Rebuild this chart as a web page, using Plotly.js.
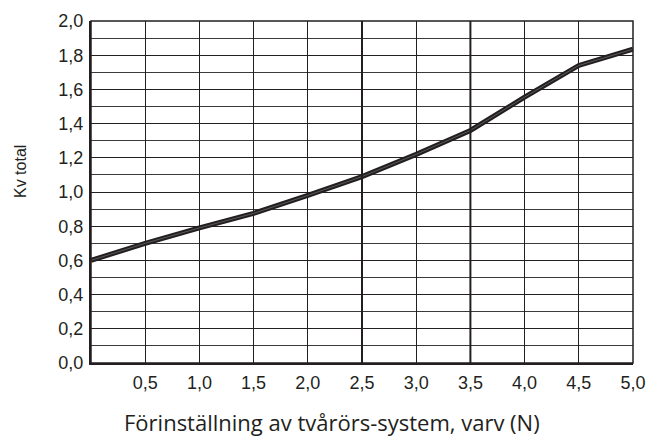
<!DOCTYPE html>
<html>
<head>
<meta charset="utf-8">
<script src="https://cdn.plot.ly/plotly-3.0.1.min.js"></script>
<style>html,body{margin:0;padding:0;background:#fff;}#chart{width:649px;height:437px;}</style>
</head>
<body>
<div id="chart"></div>
<script>
const presetting = [0, 0.5, 1.0, 1.5, 2.0, 2.5, 3.0, 3.5, 4.0, 4.5, 5.0];
const kvTotal   = [0.60, 0.70, 0.79, 0.875, 0.98, 1.09, 1.22, 1.36, 1.555, 1.74, 1.835];
const xTickVals = [0.5, 1.0, 1.5, 2.0, 2.5, 3.0, 3.5, 4.0, 4.5, 5.0];
const xTickText = ["0,5","1,0","1,5","2,0","2,5","3,0","3,5","4,0","4,5","5,0"];
const yTickVals = [0, 0.2, 0.4, 0.6, 0.8, 1.0, 1.2, 1.4, 1.6, 1.8, 2.0];
const yTickText = ["0,0","0,2","0,4","0,6","0,8","1,0","1,2","1,4","1,6","1,8","2,0"];
const heavyX    = [2.5, 3.5];
const xTitle = "Förinställning av tvårörs-system, varv (N)";
const yTitle = "Kv total";

const traces = [
  {x: presetting, y: kvTotal, mode: 'lines', line: {color: '#231f20', width: 5}, hoverinfo: 'skip'},
  {x: presetting, y: kvTotal, mode: 'lines', line: {color: '#5a5a5a', width: 1}, hoverinfo: 'skip'}
];

const shapes = heavyX.map(v => ({type: 'line', xref: 'x', yref: 'paper', x0: v, x1: v, y0: 0, y1: 1,
  line: {color: '#231f20', width: 2}}));
shapes.push({type: 'rect', xref: 'paper', yref: 'paper', x0: 0, x1: 1, y0: 0, y1: 1,
  line: {color: '#231f20', width: 1.5}});

const tickFont = {family: 'Arial', size: 18, color: '#231f20'};

const layout = {
  width: 649, height: 437,
  margin: {l: 91, r: 16, t: 21, b: 74},
  paper_bgcolor: '#fff', plot_bgcolor: '#fff',
  showlegend: false,
  font: {family: 'Arial'},
  xaxis: {
    range: [0, 5], tickvals: xTickVals, ticktext: xTickText,
    showgrid: true, gridcolor: '#231f20', gridwidth: 1,
    zeroline: false, showline: true, linecolor: '#231f20', linewidth: 2,
    ticks: '', ticklabelstandoff: 2, tickfont: tickFont, fixedrange: true
  },
  yaxis: {
    range: [0, 2], tickvals: yTickVals, ticktext: yTickText,
    showgrid: true, gridcolor: '#231f20', gridwidth: 1,
    minor: {dtick: 0.1, tick0: 0, showgrid: true, gridcolor: '#3a3a3a', gridwidth: 1},
    zeroline: false, showline: true, linecolor: '#231f20', linewidth: 2,
    ticks: '', ticklabelstandoff: 2, tickfont: tickFont, fixedrange: true
  },
  shapes: shapes,
  annotations: [
    {text: xTitle, xref: 'paper', yref: 'paper', x: 0.5, y: 0, yshift: -42, xshift: -30,
     xanchor: 'center', yanchor: 'top', showarrow: false,
     font: {family: 'Open Sans', size: 22, color: '#231f20'}},
    {text: yTitle, xref: 'paper', yref: 'paper', x: 0, xshift: -71, y: 0.5, yshift: 20,
     xanchor: 'center', yanchor: 'middle', textangle: -90, showarrow: false,
     font: {family: 'Arial', size: 16, color: '#231f20'}}
  ]
};

Plotly.newPlot('chart', traces, layout, {staticPlot: true, displayModeBar: false});
</script>
</body>
</html>
